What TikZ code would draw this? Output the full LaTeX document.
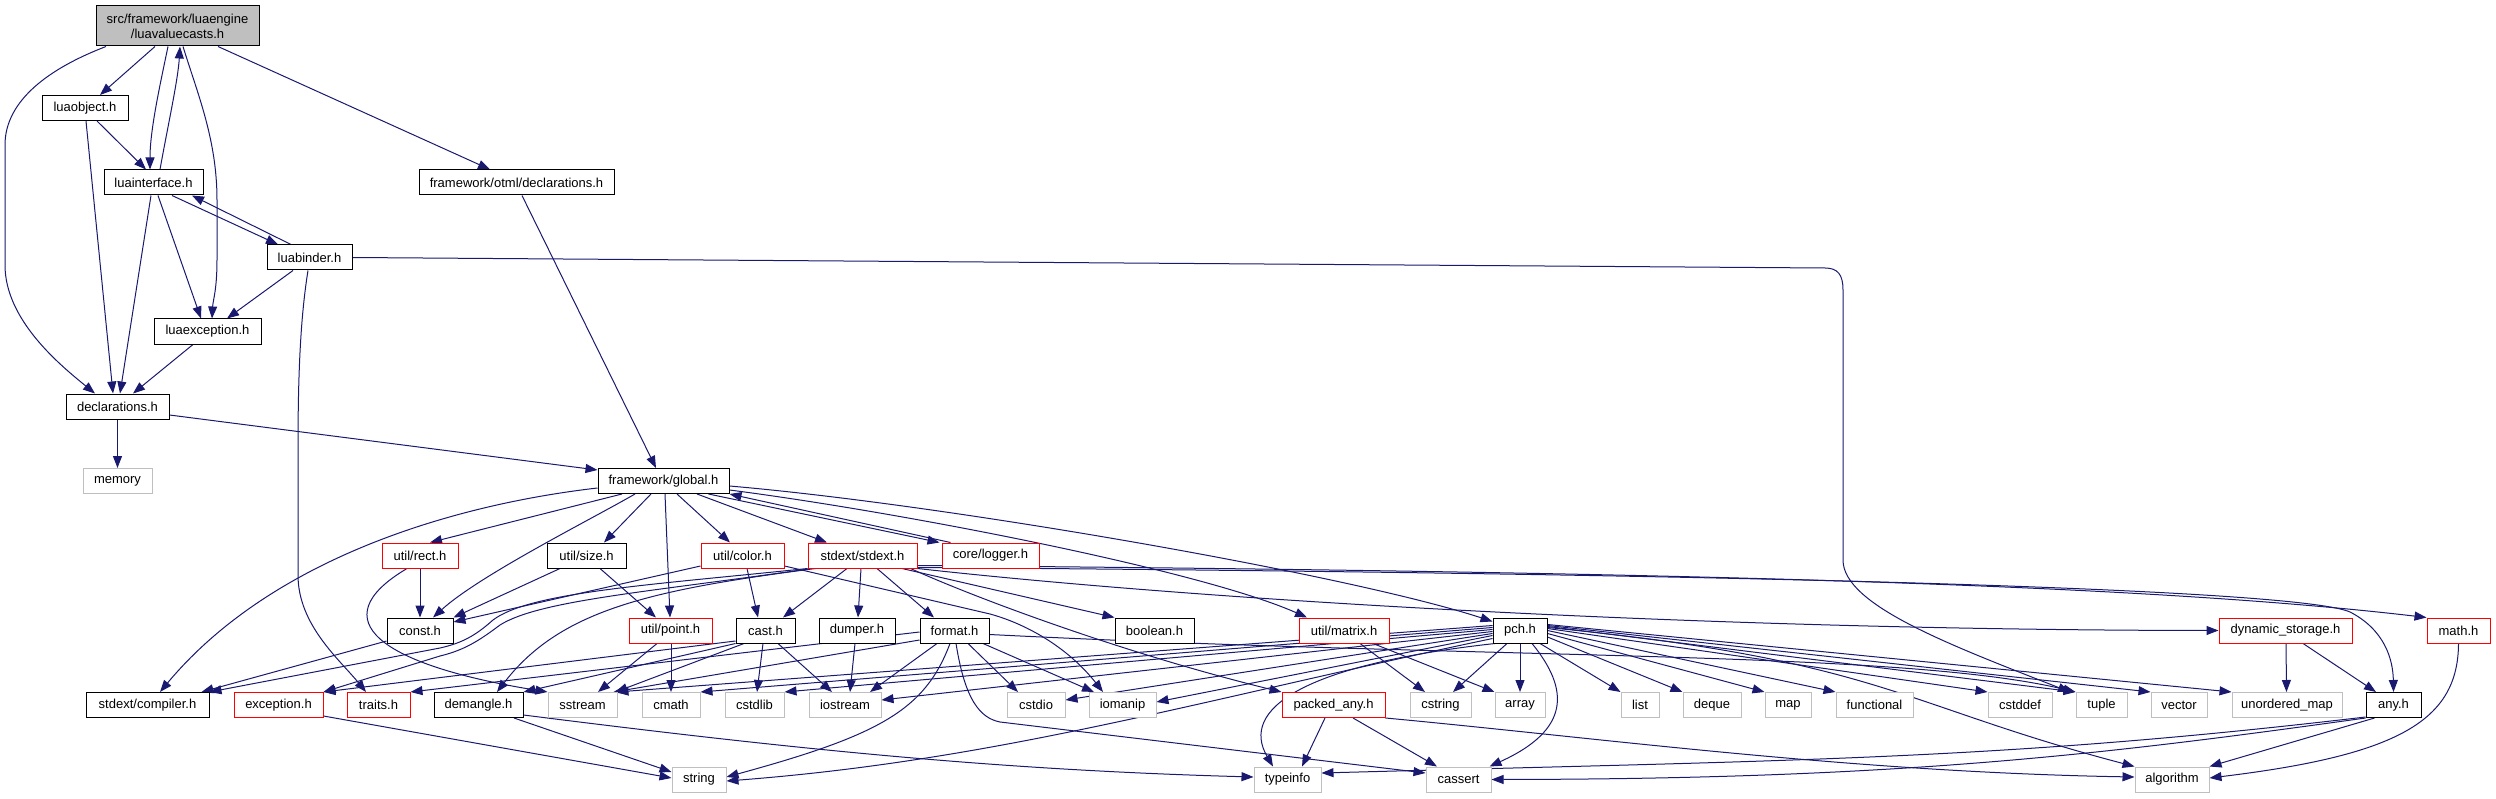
\documentclass[tikz,border=0pt]{standalone}
\usepackage{fontspec}
\setmainfont{Liberation Sans}
\usetikzlibrary{arrows.meta}
\definecolor{edgec}{HTML}{191970}
\definecolor{grayb}{HTML}{BFBFBF}
\definecolor{rootf}{HTML}{BFBFBF}
\pgfdeclarelayer{bg}
\pgfsetlayers{bg,main}
\begin{document}
\begin{tikzpicture}[x=1pt,y=-1pt,
  nd/.style={rectangle, inner sep=0pt, minimum height=25pt, line width=1pt, font=\fontsize{13}{15}\selectfont, fill=white, text=black},
  blk/.style={nd, draw=black},
  rd/.style={nd, draw=red},
  gy/.style={nd, draw=grayb},
  edg/.style={draw=edgec, line width=1pt, -{Triangle[length=12pt,width=9pt]}},
]
\useasboundingbox (0,0) rectangle (2496,799);
% nodes
\node[blk, fill=rootf, minimum width=163pt, minimum height=40pt, align=center] (root) at (177.5,26) {src/framework/luaengine\\/luavaluecasts.h};
\node[blk, minimum width=86pt] (luaobject) at (85,108) {luaobject.h};
\node[blk, minimum width=99pt] (luainterface) at (153.5,182.5) {luainterface.h};
\node[blk, minimum width=195pt] (otml) at (516.5,182.5) {framework/otml/declarations.h};
\node[blk, minimum width=85pt] (luabinder) at (309.5,257.5) {luabinder.h};
\node[blk, minimum width=107pt] (luaexception) at (207.5,331.5) {luaexception.h};
\node[blk, minimum width=103pt] (declarations) at (117.5,406.5) {declarations.h};
\node[gy, minimum width=69pt] (memory) at (117.5,481) {memory};
\node[blk, minimum width=131pt] (global) at (663.5,481) {framework/global.h};
\node[rd, minimum width=76pt] (rect) at (420,555.5) {util/rect.h};
\node[blk, minimum width=79pt] (size) at (586.5,555.5) {util/size.h};
\node[rd, minimum width=83pt] (color) at (742.5,555.5) {util/color.h};
\node[rd, minimum width=109pt] (stdext) at (862.5,555.5) {stdext/stdext.h};
\node[rd, minimum width=97pt] (logger) at (990.5,555.5) {core/logger.h};
\node[blk, minimum width=66pt] (const) at (420,630.5) {const.h};
\node[rd, minimum width=83pt] (point) at (670.5,630.5) {util/point.h};
\node[blk, minimum width=59pt] (cast) at (765.5,630.5) {cast.h};
\node[blk, minimum width=76pt] (dumper) at (857,630.5) {dumper.h};
\node[blk, minimum width=69pt] (format) at (954.5,630.5) {format.h};
\node[blk, minimum width=79pt] (boolean) at (1154.5,630.5) {boolean.h};
\node[rd, minimum width=90pt] (matrix) at (1344,630.5) {util/matrix.h};
\node[blk, minimum width=54pt] (pch) at (1520,630.5) {pch.h};
\node[rd, minimum width=133pt] (dynstor) at (2285.5,630.5) {dynamic\_storage.h};
\node[rd, minimum width=63pt] (mathh) at (2458.5,630.5) {math.h};
\node[blk, minimum width=123pt] (compiler) at (147.5,705) {stdext/compiler.h};
\node[rd, minimum width=89pt] (exception) at (278.5,705) {exception.h};
\node[rd, minimum width=63pt] (traits) at (378.5,705) {traits.h};
\node[blk, minimum width=89pt] (demangle) at (478.5,705) {demangle.h};
\node[gy, minimum width=69pt] (sstream) at (582.5,705) {sstream};
\node[gy, minimum width=58pt] (cmath) at (671,705) {cmath};
\node[gy, minimum width=59pt] (cstdlib) at (754.5,705) {cstdlib};
\node[gy, minimum width=72pt] (iostream) at (845,705) {iostream};
\node[gy, minimum width=58pt] (cstdio) at (1036,705) {cstdio};
\node[gy, minimum width=67pt] (iomanip) at (1122.5,705) {iomanip};
\node[rd, minimum width=103pt] (packedany) at (1333.5,705) {packed\_any.h};
\node[gy, minimum width=61pt] (cstring) at (1440.5,705) {cstring};
\node[gy, minimum width=50pt] (array) at (1520,705) {array};
\node[gy, minimum width=38pt] (list) at (1640,705) {list};
\node[gy, minimum width=58pt] (deque) at (1712,705) {deque};
\node[gy, minimum width=46pt] (map) at (1788,705) {map};
\node[gy, minimum width=77pt] (functional) at (1874.5,705) {functional};
\node[gy, minimum width=64pt] (cstddef) at (2020,705) {cstddef};
\node[gy, minimum width=51pt] (tuple) at (2101.5,705) {tuple};
\node[gy, minimum width=56pt] (vector) at (2179,705) {vector};
\node[gy, minimum width=110pt] (umap) at (2287,705) {unordered\_map};
\node[blk, minimum width=55pt] (any) at (2393.5,705) {any.h};
\node[gy, minimum width=54pt] (string) at (699,779.5) {string};
\node[gy, minimum width=67pt] (typeinfo) at (1287.5,779.5) {typeinfo};
\node[gy, minimum width=65pt] (cassert) at (1458.5,779.5) {cassert};
\node[gy, minimum width=74pt] (algorithm) at (2172,779.5) {algorithm};
\begin{pgfonlayer}{bg}
% root
\draw[edg] ([xshift=-71.5pt]root.south) .. controls (50,68) and (5,100) .. (5,145) -- (5,265) .. controls (5,320) and (60,365) .. ([xshift=-22.5pt]declarations.north);
\draw[edg] ([xshift=-22.5pt]root.south) -- ([xshift=15pt]luaobject.north);
\draw[edg] ([xshift=-9.5pt]root.south) .. controls (160,85) and (150,130) .. ([xshift=-3.5pt]luainterface.north);
\draw[edg] ([xshift=5.5pt]root.south) .. controls (198,95) and (217,140) .. (217,200) -- (217,260) .. controls (217,290) and (213,300) .. ([xshift=4.5pt]luaexception.north);
\draw[edg] ([xshift=40.5pt]root.south) -- ([xshift=-26.5pt]otml.north);
\draw[edg] ([xshift=6.5pt]luainterface.north) .. controls (168,125) and (178,80) .. ([xshift=2.5pt]root.south);
% luaobject
\draw[edg] ([xshift=12pt]luaobject.south) -- ([xshift=-7.5pt]luainterface.north);
\draw[edg] ([xshift=1pt]luaobject.south) -- ([xshift=-4.5pt]declarations.north);
% luainterface
\draw[edg] ([xshift=-2.5pt]luainterface.south) -- ([xshift=2.5pt]declarations.north);
\draw[edg] ([xshift=4.5pt]luainterface.south) -- ([xshift=-6.5pt]luaexception.north);
\draw[edg] ([xshift=18.5pt]luainterface.south) -- ([xshift=-31.5pt]luabinder.north);
\draw[edg] ([xshift=-18.5pt]luabinder.north) -- ([xshift=38.5pt]luainterface.south);
% luabinder
\draw[edg] ([xshift=-16.5pt]luabinder.south) -- ([xshift=19.5pt]luaexception.north);
\draw[edg] ([xshift=-1.5pt]luabinder.south) .. controls (300,320) and (298,380) .. (298,450) -- (298,575) .. controls (298,625) and (340,660) .. ([xshift=-12.5pt]traits.north);
\draw[edg] (luabinder.east) -- (1825,268) .. controls (1838,268) and (1843,275) .. (1843,290) -- (1843,560) .. controls (1843,605) and (1950,645) .. ([xshift=-31.5pt]tuple.north);
% luaexception, declarations, otml
\draw[edg] ([xshift=-14.5pt]luaexception.south) -- ([xshift=15.5pt]declarations.north);
\draw[edg] (declarations.south) -- (memory.north);
\draw[edg] ([yshift=-8.5pt]declarations.east) -- ([yshift=-2pt]global.north west);
\draw[edg] ([xshift=5.5pt]otml.south) -- ([xshift=-7.5pt]global.north);
% global
\draw[edg] ([yshift=-7pt]global.west) .. controls (450,505) and (270,560) .. ([xshift=12.5pt]compiler.north);
\draw[edg] ([xshift=-41.5pt]global.south) -- ([xshift=10pt]rect.north);
\draw[edg] ([xshift=-28.5pt]global.south) .. controls (590,520) and (480,575) .. ([xshift=13pt]const.north);
\draw[edg] ([xshift=-12.5pt]global.south) -- ([xshift=17.5pt]size.north);
\draw[edg] ([xshift=1.5pt]global.south) -- ([xshift=-0.5pt]point.north);
\draw[edg] ([xshift=13.5pt]global.south) -- ([xshift=-12.5pt]color.north);
\draw[edg] ([xshift=33.5pt]global.south) -- ([xshift=-35.5pt]stdext.north);
\draw[edg] ([xshift=45pt]global.south) -- ([xshift=-2pt]logger.north west);
\draw[edg] ([xshift=-40pt]logger.north) -- (global.south east);
\draw[edg] ([yshift=-9pt]global.east) .. controls (900,512) and (1200,570) .. ([xshift=-37pt]matrix.north);
\draw[edg] ([yshift=-5pt]global.east) .. controls (950,505) and (1350,575) .. ([yshift=9pt]pch.west);
% rect, size, color
\draw[edg] (rect.south) -- (const.north);
\draw[edg] ([xshift=-13pt]rect.south) .. controls (320,620) and (380,665) .. (sstream.north west);
\draw[edg] ([xshift=-26.5pt]size.south) -- (const.north east);
\draw[edg] ([xshift=13.5pt]size.south) -- ([xshift=-14.5pt]point.north);
\draw[edg] ([yshift=-10.5pt]color.west) -- ([yshift=8.5pt]const.east);
\draw[edg] ([xshift=4.5pt]color.south) -- ([xshift=-7.5pt]cast.north);
\draw[edg] ([yshift=-10.5pt]color.east) -- (990,614) .. controls (1030,625) and (1070,650) .. ([xshift=-19.5pt]iomanip.north);
% stdext
\draw[edg] (stdext.south west) .. controls (650,585) and (530,592) .. (493,620) .. controls (475,636) and (462,643) .. (440,648) -- (compiler.north east);
\draw[edg] ([xshift=4pt]stdext.south west) .. controls (650,592) and (540,600) .. (500,625) .. controls (480,640) and (465,650) .. (440,656) -- (exception.north east);
\draw[edg] ([xshift=8pt]stdext.south west) .. controls (650,590) and (560,610) .. ([xshift=18.5pt]demangle.north);
\draw[edg] ([xshift=-15.5pt]stdext.south) -- ([xshift=17.5pt]cast.north);
\draw[edg] ([xshift=-1.5pt]stdext.south) -- ([xshift=1pt]dumper.north);
\draw[edg] ([xshift=14.5pt]stdext.south) -- ([xshift=-20.5pt]format.north);
\draw[edg] ([xshift=39.5pt]stdext.south) -- (boolean.north west);
\draw[edg] ([xshift=-7pt]stdext.south east) .. controls (980,600) and (1130,655) .. (packedany.north west);
\draw[edg] (stdext.south east) .. controls (1200,600) and (1700,630) .. (dynstor.west);
\draw[edg] ([yshift=3pt]stdext.south east) .. controls (1700,572) and (2150,585) .. (mathh.north west);
\draw[edg] ([yshift=1pt]stdext.south east) .. controls (1800,574) and (2300,590) .. (2350,612) .. controls (2385,630) and (2393,660) .. (any.north);
% cast, dumper
\draw[edg] ([yshift=-10.5pt]cast.west) -- (exception.north east);
\draw[edg] (cast.south west) -- (demangle.north east);
\draw[edg] ([xshift=-21.5pt]cast.south) -- ([xshift=-2pt]sstream.north east);
\draw[edg] ([xshift=-2.5pt]cast.south) -- ([xshift=2.5pt]cstdlib.north);
\draw[edg] ([xshift=12.5pt]cast.south) -- ([xshift=-13pt]iostream.north);
\draw[edg] ([xshift=-2pt]dumper.south) -- ([xshift=5pt]iostream.north);
% format
\draw[edg] ([yshift=-1.5pt]format.west) -- (traits.north east);
\draw[edg] ([yshift=-9.5pt]format.west) -- ([xshift=-4pt]sstream.north east);
\draw[edg] ([xshift=-17.5pt]format.south) -- ([xshift=25pt]iostream.north);
\draw[edg] ([xshift=-4.5pt]format.south) .. controls (925,710) and (880,735) .. ([yshift=2.5pt]string.east);
\draw[edg] ([xshift=13.5pt]format.south) -- ([xshift=-18pt]cstdio.north);
\draw[edg] ([xshift=28.5pt]format.south) -- ([xshift=-28.5pt]iomanip.north);
\draw[edg] ([xshift=1.5pt]format.south) .. controls (965,700) and (980,718) .. (1000,722) -- ([yshift=6.5pt]cassert.west);
\draw[edg] ([yshift=-4pt]format.east) .. controls (1500,660) and (1900,650) .. (tuple.north west);
% packed_any, matrix
\draw[edg] ([xshift=-8.5pt]packedany.south) -- ([xshift=14.5pt]typeinfo.north);
\draw[edg] ([xshift=19.5pt]packedany.south) -- ([xshift=-21.5pt]cassert.north);
\draw[edg] (packedany.south east) .. controls (1600,738) and (1850,772) .. ([yshift=2.5pt]algorithm.west);
\draw[edg] ([xshift=16pt]matrix.south) -- ([xshift=-15.5pt]cstring.north);
\draw[edg] ([xshift=29pt]matrix.south) -- (array.north west);
% pch
\draw[edg] ([yshift=5pt]pch.west) -- ([xshift=-1pt]sstream.north east);
\draw[edg] ([yshift=3pt]pch.west) -- (cmath.north east);
\draw[edg] ([yshift=1pt]pch.west) -- (cstdlib.north east);
\draw[edg] ([yshift=-1pt]pch.west) -- ([yshift=5pt]iostream.east);
\draw[edg] ([yshift=-3pt]pch.west) -- ([yshift=5pt]cstdio.east);
\draw[edg] ([yshift=-5pt]pch.west) -- ([yshift=3pt]iomanip.east);
\draw[edg] ([yshift=-8pt]pch.west) .. controls (1200,700) and (1000,760) .. ([yshift=-1.5pt]string.east);
\draw[edg] ([xshift=-25pt]pch.south) .. controls (1300,665) and (1240,710) .. ([xshift=-14.5pt]typeinfo.north);
\draw[edg] ([xshift=12pt]pch.south) .. controls (1570,690) and (1570,730) .. ([xshift=-2pt]cassert.north east);
\draw[edg] ([xshift=-13pt]pch.south) -- ([xshift=12.5pt]cstring.north);
\draw[edg] (pch.south) -- (array.north);
\draw[edg] ([xshift=20pt]pch.south) -- (list.north west);
\draw[edg] ([yshift=-6.5pt]pch.east) -- (deque.north west);
\draw[edg] ([yshift=-3pt]pch.east) -- (map.north west);
\draw[edg] (pch.east) -- (functional.north west);
\draw[edg] ([yshift=2pt]pch.east) -- (cstddef.north west);
\draw[edg] ([yshift=4pt]pch.east) -- (tuple.north west);
\draw[edg] ([yshift=5pt]pch.east) -- (vector.north west);
\draw[edg] ([yshift=6pt]pch.east) -- (umap.north west);
\draw[edg] ([yshift=3pt]pch.east) .. controls (1880,660) and (1900,705) .. (algorithm.north west);
% dynamic_storage, math, any
\draw[edg] ([xshift=0.5pt]dynstor.south) -- ([xshift=-0.5pt]umap.north);
\draw[edg] ([xshift=17.5pt]dynstor.south) -- ([xshift=-17.5pt]any.north);
\draw[edg] (mathh.south) .. controls (2458,720) and (2400,755) .. ([yshift=1.5pt]algorithm.east);
\draw[edg] ([yshift=1pt]any.south west) .. controls (2000,760) and (1800,760) .. ([yshift=6.5pt]typeinfo.east);
\draw[edg] (any.south west) .. controls (2100,755) and (1900,779) .. (cassert.east);
\draw[edg] ([xshift=9pt]any.south west) -- (algorithm.north east);
% point, exception, demangle, const
\draw[edg] ([xshift=-13.5pt]point.south) -- ([xshift=15.5pt]sstream.north);
\draw[edg] ([xshift=0.5pt]point.south) -- (cmath.north);
\draw[edg] ([yshift=-11pt]exception.east) -- ([yshift=1.5pt]string.west);
\draw[edg] ([xshift=35.5pt]demangle.south) -- ([yshift=7.5pt]string.west);
\draw[edg] ([yshift=-10pt]demangle.east) .. controls (800,750) and (1000,770) .. ([yshift=2.5pt]typeinfo.west);
\draw[edg] ([yshift=-10.5pt]const.west) -- ([xshift=-8pt]compiler.north east);
\end{pgfonlayer}
\end{tikzpicture}
\end{document}
